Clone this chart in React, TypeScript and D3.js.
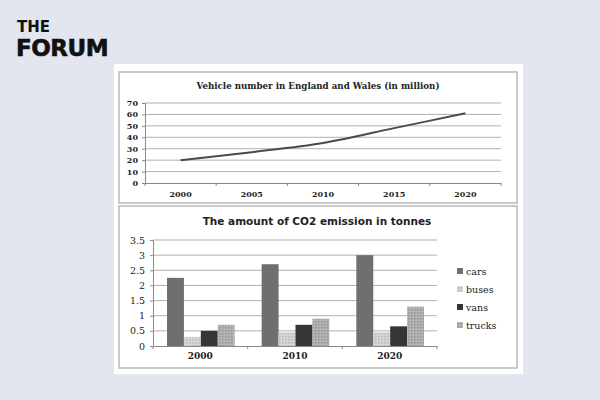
import { useRef, useEffect } from "react";
import * as d3 from "d3";

const years = ["2000", "2005", "2010", "2015", "2020"];
const vehicles = [20, 27, 35, 48, 61];

const co2Years = ["2000", "2010", "2020"];
const seriesNames = ["cars", "buses", "vans", "trucks"];
const cars = [2.25, 2.7, 3.0];
const buses = [0.3, 0.45, 0.45];
const vans = [0.5, 0.7, 0.65];
const trucks = [0.7, 0.9, 1.3];

const fills = ["#6f6f6f", "url(#dots)", "#363636", "url(#hatch)"];

export default function App() {
  const svgRef = useRef<SVGSVGElement>(null);

  useEffect(() => {
    const svg = d3.select(svgRef.current);
    svg.selectAll("*").remove();

    const defs = svg.append("defs");
    const dots = defs
      .append("pattern")
      .attr("id", "dots")
      .attr("width", 3)
      .attr("height", 3)
      .attr("patternUnits", "userSpaceOnUse");
    dots.append("rect").attr("width", 3).attr("height", 3).attr("fill", "#d6d6d6");
    dots.append("rect").attr("width", 1.5).attr("height", 1.5).attr("fill", "#b8b8b8");
    const hatch = defs
      .append("pattern")
      .attr("id", "hatch")
      .attr("width", 3)
      .attr("height", 3)
      .attr("patternUnits", "userSpaceOnUse");
    hatch.append("rect").attr("width", 3).attr("height", 3).attr("fill", "#b4b4b4");
    hatch.append("rect").attr("width", 1.5).attr("height", 1.5).attr("fill", "#939393");

    // background + logo
    svg.append("rect").attr("width", 600).attr("height", 400).attr("fill", "#e3e6ee");
    svg
      .append("text")
      .attr("x", 17)
      .attr("y", 32)
      .attr("font-family", "DejaVu Sans")
      .attr("font-weight", 900)
      .attr("font-size", 15)
      .attr("fill", "#111")
      .text("THE");
    svg
      .append("text")
      .attr("x", 16)
      .attr("y", 56)
      .attr("font-family", "DejaVu Sans")
      .attr("font-weight", 900)
      .attr("font-size", 23)
      .attr("letter-spacing", -0.5)
      .attr("fill", "#111")
      .attr("stroke", "#111")
      .attr("stroke-width", 0.6)
      .text("FORUM");

    svg.append("rect").attr("x", 114).attr("y", 64).attr("width", 409).attr("height", 310).attr("fill", "#fff");

    // ---- top panel: line chart
    svg
      .append("rect")
      .attr("x", 119)
      .attr("y", 72)
      .attr("width", 398)
      .attr("height", 131)
      .attr("fill", "#fff")
      .attr("stroke", "#b8b8b8")
      .attr("stroke-width", 1.5);
    svg
      .append("text")
      .attr("x", 318)
      .attr("y", 89)
      .attr("text-anchor", "middle")
      .attr("font-family", "DejaVu Serif")
      .attr("font-weight", "bold")
      .attr("font-size", 8.7)
      .attr("fill", "#222")
      .text("Vehicle number in England and Wales (in million)");

    const x1 = d3.scaleBand().domain(years).range([145, 501]);
    const y1 = d3.scaleLinear().domain([0, 70]).range([183, 103]);
    const g1 = svg.append("g");
    g1.selectAll("line.grid")
      .data(d3.range(10, 71, 10))
      .enter()
      .append("line")
      .attr("x1", 145)
      .attr("x2", 501)
      .attr("y1", (d) => y1(d))
      .attr("y2", (d) => y1(d))
      .attr("stroke", "#b0b0b0");
    const ax1 = g1
      .append("g")
      .attr("transform", "translate(145,0)")
      .call(d3.axisLeft(y1).tickValues(d3.range(0, 71, 10)).tickSize(3).tickPadding(4));
    const bx1 = g1
      .append("g")
      .attr("transform", "translate(0,183)")
      .call(d3.axisBottom(x1).tickSize(0).tickPadding(8));
    bx1.selectAll("line.edge")
      .data([145, ...years.map((d) => (x1(d) as number) + x1.bandwidth())])
      .enter()
      .append("line")
      .attr("x1", (d) => d)
      .attr("x2", (d) => d)
      .attr("y1", 0)
      .attr("y2", 3)
      .attr("stroke", "#888");
    [ax1, bx1].forEach((a) => {
      a.select(".domain").attr("stroke", "#888");
      a.selectAll(".tick line").attr("stroke", "#888");
      a.selectAll("text")
        .attr("font-family", "DejaVu Serif")
        .attr("font-weight", "bold")
        .attr("font-size", 8)
        .attr("fill", "#222");
    });
    const line = d3
      .line<number>()
      .x((_, i) => (x1(years[i]) as number) + x1.bandwidth() / 2)
      .y((d) => y1(d))
      .curve(d3.curveMonotoneX);
    g1.append("path")
      .attr("d", line(vehicles))
      .attr("fill", "none")
      .attr("stroke", "#4a4a4a")
      .attr("stroke-width", 2);

    // ---- bottom panel: grouped bars
    svg
      .append("rect")
      .attr("x", 119)
      .attr("y", 206)
      .attr("width", 398)
      .attr("height", 162)
      .attr("fill", "#fff")
      .attr("stroke", "#b8b8b8")
      .attr("stroke-width", 1.5);
    svg
      .append("text")
      .attr("x", 317)
      .attr("y", 225)
      .attr("text-anchor", "middle")
      .attr("font-family", "DejaVu Sans")
      .attr("font-weight", "bold")
      .attr("font-size", 10.5)
      .attr("fill", "#222")
      .text("The amount of CO2 emission in tonnes");

    const series = [cars, buses, vans, trucks];
    const x2 = d3.scaleBand().domain(co2Years).range([153, 437]);
    const xs = d3
      .scaleBand()
      .domain(seriesNames)
      .range([14, x2.bandwidth() - 13]);
    const y2 = d3.scaleLinear().domain([0, 3.5]).range([346, 240]);
    const g2 = svg.append("g");
    g2.selectAll("line.grid")
      .data(d3.range(0.5, 3.51, 0.5))
      .enter()
      .append("line")
      .attr("x1", 153)
      .attr("x2", 437)
      .attr("y1", (d) => y2(d))
      .attr("y2", (d) => y2(d))
      .attr("stroke", "#b0b0b0");
    const ax2 = g2
      .append("g")
      .attr("transform", "translate(153,0)")
      .call(
        d3
          .axisLeft(y2)
          .tickValues(d3.range(0, 3.51, 0.5))
          .tickFormat((d) => String(+d))
          .tickSize(3)
          .tickPadding(5)
      );
    const bx2 = g2
      .append("g")
      .attr("transform", "translate(0,346)")
      .call(d3.axisBottom(x2).tickSize(0).tickPadding(7));
    bx2.selectAll("line.edge")
      .data([153, ...co2Years.map((d) => (x2(d) as number) + x2.bandwidth())])
      .enter()
      .append("line")
      .attr("x1", (d) => d)
      .attr("x2", (d) => d)
      .attr("y1", 0)
      .attr("y2", 3)
      .attr("stroke", "#888");
    [ax2, bx2].forEach((a) => {
      a.select(".domain").attr("stroke", "#888");
      a.selectAll(".tick line").attr("stroke", "#888");
      a.selectAll("text")
        .attr("font-family", "DejaVu Serif")
        .attr("font-size", 9.5)
        .attr("fill", "#222");
    });
    bx2.selectAll("text").attr("font-weight", "bold").attr("font-size", 9);

    series.forEach((vals, si) => {
      g2.selectAll(null)
        .data(vals)
        .enter()
        .append("rect")
        .attr("x", (_, i) => (x2(co2Years[i]) as number) + (xs(seriesNames[si]) as number))
        .attr("width", xs.bandwidth())
        .attr("y", (d) => y2(d))
        .attr("height", (d) => 346 - y2(d))
        .attr("fill", fills[si]);
    });

    const legend = svg
      .append("g")
      .selectAll("g")
      .data(seriesNames)
      .enter()
      .append("g")
      .attr("transform", (_, i) => `translate(457,${272 + i * 18})`);
    legend
      .append("rect")
      .attr("x", 0)
      .attr("y", -4)
      .attr("width", 6)
      .attr("height", 6)
      .attr("fill", (_, i) => fills[i]);
    legend
      .append("text")
      .attr("x", 9)
      .attr("y", 3)
      .attr("font-family", "DejaVu Serif")
      .attr("font-size", 9.5)
      .attr("fill", "#222")
      .text((d) => d);
  }, []);

  return (
    <svg
      ref={svgRef}
      width={600}
      height={400}
      style={{ position: "absolute", left: 0, top: 0 }}
    />
  );
}
